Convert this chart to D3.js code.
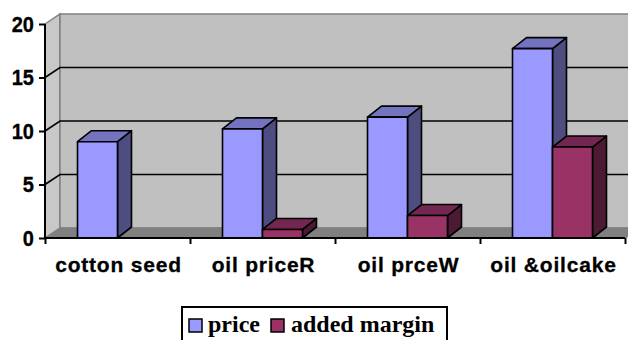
<!DOCTYPE html>
<html><head><meta charset="utf-8">
<script src="https://cdn.jsdelivr.net/npm/d3@7"></script>
<style>html,body{margin:0;padding:0;background:#fff;}svg{display:block;}</style>
</head><body>
<svg id="chart" width="628" height="340"></svg>
<script>
const categories = ["cotton seed", "oil priceR", "oil prceW", "oil &oilcake"];
const seriesNames = ["price", "added margin"];
const price = [9, 10.2, 11.3, 17.7];
const addedMargin = [0, 0.8, 2.1, 8.5];
const yTicks = [0, 5, 10, 15, 20];

const svg = d3.select("#chart");
const W = 628, H = 340;
const front = {left: 45, right: 625, top: 24, bottom: 238};
const wallD = {dx: 15, dy: -10};
const barD = {dx: 14, dy: -11};

const y = d3.scaleLinear().domain([0, 20]).range([front.bottom, front.top]);
const x = d3.scaleBand().domain(categories).range([front.left, front.right]);
const xs = d3.scaleBand().domain(seriesNames).range([0, x.bandwidth()]).paddingInner(0).paddingOuter(0.8125);

const colors = {
  "price": {front: "#9999FF", top: "#7373BF", side: "#4D4D80"},
  "added margin": {front: "#993366", top: "#732650", side: "#4D1A33"}
};

const pts = a => a.map(p => p.join(",")).join(" ");
const y0 = y(0), yMax = y(20);

// left wall
svg.append("polygon")
  .attr("points", pts([[front.left, yMax], [front.left + wallD.dx, yMax + wallD.dy], [front.left + wallD.dx, y0 + wallD.dy], [front.left, y0]]))
  .attr("fill", "#C8C8C8").attr("stroke", "#808080").attr("stroke-width", 1.5);
// back wall
svg.append("rect")
  .attr("x", front.left + wallD.dx).attr("y", yMax + wallD.dy)
  .attr("width", W - front.left - wallD.dx + 20).attr("height", y0 - yMax)
  .attr("fill", "#C0C0C0").attr("stroke", "#808080").attr("stroke-width", 1.5);
// floor
svg.append("polygon")
  .attr("points", pts([[front.left, y0], [front.left + wallD.dx, y0 + wallD.dy], [W + 20, y0 + wallD.dy], [front.right, y0]]))
  .attr("fill", "#808080").attr("stroke", "#808080").attr("stroke-width", 1);

// gridlines
yTicks.filter(v => v > 0 && v < 20).forEach(v => {
  const yy = y(v);
  svg.append("polyline")
    .attr("points", pts([[front.left, yy], [front.left + wallD.dx, yy + wallD.dy], [W + 20, yy + wallD.dy]]))
    .attr("fill", "none").attr("stroke", "#000").attr("stroke-width", 1.6);
});

// bars
function bar3d(x0, w, v, c) {
  if (v <= 0) return;
  const yt = y(v), yb = y(0), dx = barD.dx, dy = barD.dy;
  const g = svg.append("g").attr("stroke", "#000").attr("stroke-width", 1.6).attr("stroke-linejoin", "round");
  g.append("polygon").attr("fill", c.side)
    .attr("points", pts([[x0 + w, yt], [x0 + w + dx, yt + dy], [x0 + w + dx, yb + dy], [x0 + w, yb]]));
  g.append("polygon").attr("fill", c.top)
    .attr("points", pts([[x0, yt], [x0 + dx, yt + dy], [x0 + w + dx, yt + dy], [x0 + w, yt]]));
  g.append("rect").attr("fill", c.front)
    .attr("x", x0).attr("y", yt).attr("width", w).attr("height", yb - yt);
}
categories.forEach((cat, i) => {
  bar3d(x(cat) + xs("price"), xs.bandwidth(), price[i], colors["price"]);
  bar3d(x(cat) + xs("added margin"), xs.bandwidth(), addedMargin[i], colors["added margin"]);
});

// axes
const yAxis = d3.axisLeft(y).tickValues(yTicks).tickSize(6).tickFormat(d3.format("d"));
const gy = svg.append("g").attr("transform", `translate(${front.left},0)`).call(yAxis);
gy.select(".domain").attr("stroke", "#000").attr("stroke-width", 2).attr("d", `M0,${front.top}V${front.bottom}`);
gy.selectAll(".tick line").attr("stroke", "#000").attr("stroke-width", 2);
gy.selectAll(".tick text").remove();
yTicks.forEach(v => {
  svg.append("g").attr("transform", `translate(34,${y(v) + 7.5}) scale(1,1.1)`)
    .append("text").attr("text-anchor", "end")
    .attr("font-family", "'Liberation Sans', Arial, sans-serif").attr("font-weight", "bold").attr("font-size", 20)
    .attr("stroke", "#000").attr("stroke-width", 0.3)
    .attr("fill", "#000").text(v);
});

const xAxis = d3.axisBottom(d3.scaleLinear().domain([0, 4]).range([front.left, front.right])).tickValues([0,1,2,3,4]).tickSize(6).tickFormat("");
const gx = svg.append("g").attr("transform", `translate(0,${front.bottom})`).call(xAxis);
gx.select(".domain").attr("stroke", "#000").attr("stroke-width", 2).attr("d", `M${front.left},0H${front.right}`);
gx.selectAll(".tick line").attr("stroke", "#000").attr("stroke-width", 2);

categories.forEach(cat => {
  svg.append("text")
    .attr("x", x(cat) + x.bandwidth() / 2 + 1).attr("y", 271.5)
    .attr("text-anchor", "middle")
    .attr("font-family", "'Liberation Sans', Arial, sans-serif").attr("font-weight", "bold").attr("font-size", 21)
    .attr("letter-spacing", 0.8)
    .attr("stroke", "#000").attr("stroke-width", 0.3)
    .attr("fill", "#000").text(cat);
});

// legend
svg.append("rect").attr("x", 182).attr("y", 307).attr("width", 265).attr("height", 45)
  .attr("fill", "#fff").attr("stroke", "#000").attr("stroke-width", 2);
const legItems = [{name: "price", mx: 189, tx: 208}, {name: "added margin", mx: 271, tx: 291}];
legItems.forEach(it => {
  svg.append("rect").attr("x", it.mx).attr("y", 319).attr("width", 13).attr("height", 13)
    .attr("fill", colors[it.name].front).attr("stroke", "#000").attr("stroke-width", 1.5);
  svg.append("text").attr("x", it.tx).attr("y", 332)
    .attr("font-family", "'Liberation Serif', 'Times New Roman', serif").attr("font-weight", "bold").attr("font-size", 24)
    .attr("fill", "#000").text(it.name);
});
</script>
</body></html>
